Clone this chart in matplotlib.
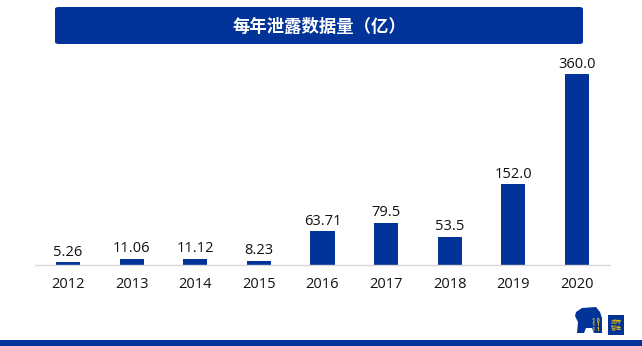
import matplotlib.pyplot as plt
from matplotlib.patches import FancyBboxPatch, Rectangle, Polygon

plt.rcParams['font.family'] = ['Open Sans', 'DejaVu Sans']

years = ['2012', '2013', '2014', '2015', '2016', '2017', '2018', '2019', '2020']
leaked = [5.26, 11.06, 11.12, 8.23, 63.71, 79.5, 53.5, 152.0, 360.0]
value_labels = ['5.26', '11.06', '11.12', '8.23', '63.71', '79.5', '53.5', '152.0', '360.0']

title = '每年泄露数据量（亿）'
navy = '#023399'
W, H = 642, 346


def px(x, y):
    # pixel position (from top-left) -> figure fraction
    return (x / W, 1 - y / H)


fig = plt.figure(figsize=(W / 100, H / 100), dpi=100)

# title banner
banner = FancyBboxPatch(px(55, 44), 528 / W, 37 / H,
                        boxstyle='round,pad=0,rounding_size=0.006',
                        transform=fig.transFigure, facecolor=navy,
                        edgecolor='none')
fig.patches.append(banner)
fig.text(*px(319, 27), title, color='white', fontsize=12.5,
         fontweight='bold', ha='center', va='center',
         family=['Noto Sans CJK SC', 'DejaVu Sans'])

# bars
ax = fig.add_axes([35 / W, (H - 265) / H, 575 / W, 212 / H])
x = range(len(years))
bars = ax.bar(x, leaked, width=0.38, color=navy)
for b, lab in zip(bars, value_labels):
    ax.text(b.get_x() + b.get_width() / 2, b.get_height() + 5, lab,
            ha='center', va='bottom', fontsize=10.5, color='#111111')

ax.set_xlim(-0.52, 8.52)
ax.set_ylim(0, 400)
ax.set_xticks(list(x))
ax.set_xticklabels(years, fontsize=10.5, color='#111111')
ax.tick_params(axis='x', length=0, pad=9)
ax.set_yticks([])
for side in ['top', 'left', 'right']:
    ax.spines[side].set_visible(False)
ax.spines['bottom'].set_color('#d9d9d9')
ax.spines['bottom'].set_linewidth(1)

# bottom stripe
fig.patches.append(Rectangle((0, 0), 1, 6 / H, transform=fig.transFigure,
                             facecolor=navy, edgecolor='none'))

# logo: silhouette, binary digits and badge
shape = [(576, 312), (582, 308), (596, 307), (600, 312), (602, 318),
         (602, 333), (594, 333), (592, 328), (586, 328), (584, 333),
         (577, 333), (578, 322), (575, 316)]
fig.patches.append(Polygon([px(a, b) for a, b in shape], closed=True,
                           transform=fig.transFigure, facecolor=navy,
                           edgecolor='none'))
fig.text(*px(596, 325), '1 0\n1 1\n1 1', color='#f2c200',
         fontsize=4, ha='center', va='center', fontweight='bold',
         linespacing=0.9)
fig.patches.append(Rectangle(px(608, 335), 16 / W, 20 / H,
                             transform=fig.transFigure, facecolor=navy,
                             edgecolor='none'))
fig.text(*px(616, 325), '虎符\n智库', color='#f2c200', fontsize=4,
         ha='center', va='center', linespacing=1.1,
         family=['Noto Sans CJK SC', 'DejaVu Sans'])

fig.savefig('out.png', dpi=100)
